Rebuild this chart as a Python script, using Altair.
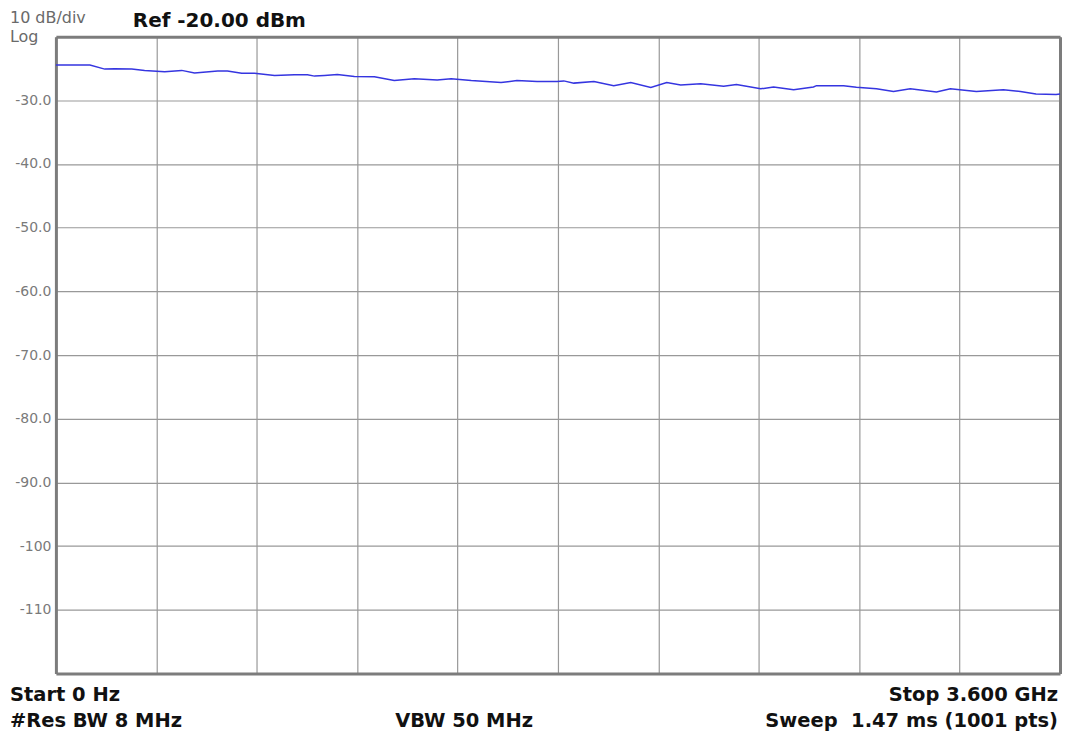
import altair as alt
import pandas as pd

# Trace (frequency in GHz, level in dBm)
freq_ghz = [0.0, 0.122, 0.175, 0.211, 0.272, 0.318, 0.39, 0.451, 0.497, 0.58, 0.615,
            0.666, 0.712, 0.784, 0.855, 0.902, 0.927, 0.963, 1.009, 1.07, 1.142, 1.213,
            1.285, 1.367, 1.417, 1.489, 1.596, 1.653, 1.725, 1.797, 1.821, 1.857, 1.929,
            2.0, 2.061, 2.133, 2.19, 2.24, 2.312, 2.394, 2.44, 2.527, 2.573, 2.645,
            2.716, 2.727, 2.824, 2.87, 2.942, 3.003, 3.063, 3.157, 3.207, 3.3, 3.397,
            3.458, 3.514, 3.586, 3.6]
level_dbm = [-24.45, -24.45, -25.1, -25.05, -25.1, -25.3, -25.5, -25.3, -25.7, -25.4, -25.4,
             -25.75, -25.75, -26.1, -26.0, -26.0, -26.2, -26.1, -25.95, -26.25, -26.3, -26.9,
             -26.6, -26.8, -26.6, -26.9, -27.2, -26.9, -27.05, -27.05, -26.95, -27.3, -27.05,
             -27.7, -27.2, -28.0, -27.2, -27.6, -27.4, -27.8, -27.5, -28.2, -27.9, -28.35,
             -27.9, -27.7, -27.7, -27.95, -28.2, -28.6, -28.2, -28.7, -28.2, -28.6, -28.35,
             -28.6, -29.0, -29.1, -29.0]

x_grid = [0.36 * k for k in range(11)]
y_ticks = [-30, -40, -50, -60, -70, -80, -90, -100, -110]

df = pd.DataFrame({"f": freq_ghz, "p": level_dbm})

xs = alt.Scale(domain=[0, 3.6], nice=False, zero=False)
ys = alt.Scale(domain=[-120, -20], nice=False, zero=False)
FRAME = "#7c7c7c"

trace = alt.Chart(df).mark_line(color="#3535e0", strokeWidth=1.5, interpolate="linear").encode(
    x=alt.X("f:Q", scale=xs,
            axis=alt.Axis(values=x_grid, labels=False, ticks=False, title=None,
                          domain=True, domainColor=FRAME, domainWidth=3,
                          grid=True, gridColor="#999999", gridWidth=1.2)),
    y=alt.Y("p:Q", scale=ys,
            axis=alt.Axis(values=y_ticks, ticks=False, title=None,
                          domain=True, domainColor=FRAME, domainWidth=3,
                          grid=True, gridColor="#999999", gridWidth=1.2,
                          labelExpr="datum.value > -100 ? '-' + format(abs(datum.value), '.1f') : '-' + format(abs(datum.value), 'd')",
                          labelFont="DejaVu Sans", labelFontSize=14, labelColor="#7a7a7a",
                          labelPadding=5)),
)

# top and right edges of the frame
frame = alt.Chart(df).mark_line(opacity=0).encode(
    x=alt.X("f:Q", scale=xs,
            axis=alt.Axis(orient="top", labels=False, ticks=False, grid=False, title=None,
                          domain=True, domainColor=FRAME, domainWidth=3)),
    y=alt.Y("p:Q", scale=ys,
            axis=alt.Axis(orient="right", labels=False, ticks=False, grid=False, title=None,
                          domain=True, domainColor=FRAME, domainWidth=3)),
)

one = pd.DataFrame({"a": [0]})


def txt(s, x, y, size, bold=True, color="#111111", align="left"):
    return alt.Chart(one).mark_text(
        text=s, font="DejaVu Sans", fontSize=size, fontWeight="bold" if bold else "normal",
        color=color, align=align, baseline="alphabetic",
    ).encode(x=alt.value(x), y=alt.value(y))


texts = [
    txt("10 dB/div", -46, -14, 16, bold=False, color="#6a6a6a"),
    txt("Log", -46, 5, 16, bold=False, color="#6a6a6a"),
    txt("Ref -20.00 dBm", 77, -10, 20),
    txt("Start 0 Hz", -46, 666, 19.5),
    txt("#Res BW 8 MHz", -46, 692, 19.5),
    txt("VBW 50 MHz", 409, 692, 19.5, align="center"),
    txt("Stop 3.600 GHz", 1004, 666, 19.5, align="right"),
    txt("Sweep\u00a0 1.47 ms (1001 pts)", 1004, 692, 19.5, align="right"),
]

chart = alt.layer(trace, frame, *texts).resolve_axis(
    x="independent", y="independent"
).properties(
    width=1006, height=638,
    autosize=alt.AutoSizeParams(type="none"),
    padding={"left": 48, "top": 28, "right": 2, "bottom": 60},
).configure_view(stroke=FRAME, strokeWidth=3).configure(background="white")

chart.save("out.html", embed_options={"renderer": "svg", "actions": False})
